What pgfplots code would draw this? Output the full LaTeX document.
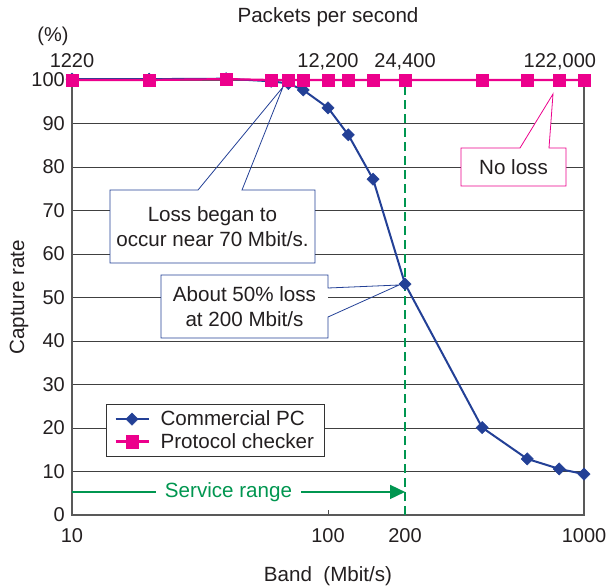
\documentclass[border=0pt]{standalone}
\usepackage{pgfplots}
\pgfplotsset{compat=1.18}
\usepackage{fontspec}
\setmainfont{Liberation Sans}
\usetikzlibrary{arrows.meta}
\definecolor{cblue}{RGB}{35,64,150}
\definecolor{cpink}{RGB}{236,0,140}
\definecolor{cgreen}{RGB}{0,150,80}
\definecolor{ctext}{RGB}{35,31,32}
\newcommand\fs{\fontsize{20}{25}\selectfont}
\newcommand\fb{\fontsize{20.6}{25}\selectfont}
\begin{document}
\begin{tikzpicture}[font=\fs, text=ctext]
\begin{axis}[name=main, scale only axis, width=512pt, height=435pt,
  xmode=log, xmin=10, xmax=1000, ymin=0, ymax=100, clip=false,
  axis line style={black!65, line width=1.1pt},
  xtick={10,100,200,1000}, xticklabels={10,100,200,1000}, xminorticks=false,
  ytick={0,10,...,100},
  ymajorgrids, grid style={black!75, line width=0.9pt},
  major tick length=5pt, tick align=inside,
  xtick pos=bottom, ytick pos=left,
  ytick style={draw=none},
  xtick style={black!70, line width=0.9pt},
  /pgf/number format/assume math mode=true,
  tick label style={font=\fs, text=ctext},
  xticklabel style={anchor=base, yshift=-27pt, inner sep=0pt},
  yticklabel style={anchor=east, xshift=-7pt, inner sep=0pt},
  xlabel={Band\ \ (Mbit/s)},
  every axis x label/.style={at={(axis description cs:0.5,0)}, anchor=base, yshift=-66pt, font=\fb, text=ctext},
  ylabel={Capture rate},
  every axis y label/.style={at={(axis description cs:0,0.5)}, xshift=-48pt, rotate=90, anchor=base, font=\fb, text=ctext},
  legend style={at={(rel axis cs:0.0664,0.2552)}, anchor=north west, draw=black!80, line width=0.8pt, fill=white, font=\fb, inner xsep=8pt, inner ysep=4.5pt, row sep=2pt, nodes={inner sep=2pt, text=ctext},
    /tikz/every odd column/.append style={column sep=9pt}},
  legend cell align=left,
  legend image code/.code={\draw[#1, mark repeat=2, mark phase=2] plot coordinates {(0pt,0pt) (16.5pt,0pt) (33pt,0pt)};},
]
\draw[cgreen, line width=2pt, dash pattern=on 9pt off 5pt] (axis cs:200,0) -- (axis cs:200,100);
\draw[cgreen, line width=1.6pt, -{Triangle[length=15pt,width=14pt]}] (axis cs:10,5.3) -- node[pos=0.47, fill=white, text=cgreen, font=\fb, inner xsep=9pt, inner ysep=1pt] {Service range} (axis cs:200,5.3);
\addplot[cblue, line width=2pt, mark=square*, mark size=4.3pt, mark options={rotate=45, solid, fill=cblue, draw=cblue, line width=0.5pt}] coordinates {
 (10,100.2) (20,100.2) (40,100.3) (60,99.7) (70,99.2) (80,97.7) (100,93.6) (120,87.4) (150,77.2) (200,53.1) (400,20.1) (600,12.9) (800,10.6) (1000,9.4)};
\addlegendentry{Commercial PC}
\addplot[cpink, line width=2.2pt, mark=square*, mark size=6.2pt, mark options={fill=cpink, draw=cpink, line width=0.2pt}] coordinates {
 (10,100) (20,100) (40,100.2) (60,100) (70,100) (80,100) (100,100) (120,100) (150,100) (200,100) (400,100) (600,100) (800,100) (1000,100)};
\addlegendentry{Protocol checker}
\end{axis}
\begin{axis}[scale only axis, width=512pt, height=435pt,
  xmode=log, xmin=10, xmax=1000, ymin=0, ymax=100,
  axis x line*=top, axis y line=none,
  xtick={10,100,200,1000},
  xticklabels={1220,{12,200},{24,400},{\makebox[0pt][r]{122,000\kern-12pt}}},
  xminorticks=false, major tick length=0pt,
  x axis line style={draw=none},
  xticklabel style={anchor=base, yshift=12pt, inner sep=0pt, font=\fs, text=ctext},
  title={Packets per second},
  title style={at={(axis description cs:0.5,1)}, anchor=base, yshift=51pt, font=\fb, text=ctext},
]
\end{axis}
\node[anchor=base, font=\fs, text=ctext] at ([shift={(-19pt,38pt)}]main.north west) {(\%)};
\begin{scope}[shift={(main.north west)}, x=1pt, y=-1pt]
  % Box 1
  \fill[white] (38,110) rectangle (243,183);
  \draw[cblue, line width=0.8pt, line join=miter] (126,110) -- (211,7) -- (170,110) -- (243,110) -- (243,183) -- (38,183) -- (38,110) -- cycle;
  \node[align=center, font=\fb, text=ctext] at (140.5,146.5) {Loss began to\\occur near 70 Mbit/s.};
  % Box 2
  \fill[white] (89,195) rectangle (256,258);
  \draw[cblue, line width=0.8pt, line join=miter] (256,208) -- (327,205) -- (256,237) -- (256,258) -- (89,258) -- (89,195) -- (256,195) -- cycle;
  \node[align=center, font=\fb, text=ctext] at (172.5,226.5) {About 50\% loss\\at 200 Mbit/s};
  % Box 3
  \filldraw[fill=white, draw=cpink, line width=0.8pt, line join=miter] (389,68) -- (448,68) -- (481,14) -- (477,68) -- (494,68) -- (494,106) -- (389,106) -- cycle;
  \node[font=\fb, text=ctext] at (441.5,87) {No loss};
\end{scope}
\pgfresetboundingbox
\path (main.south west) ++(-72pt,-72pt) rectangle ([shift={(27pt,80pt)}]main.north east);
\end{tikzpicture}
\end{document}
